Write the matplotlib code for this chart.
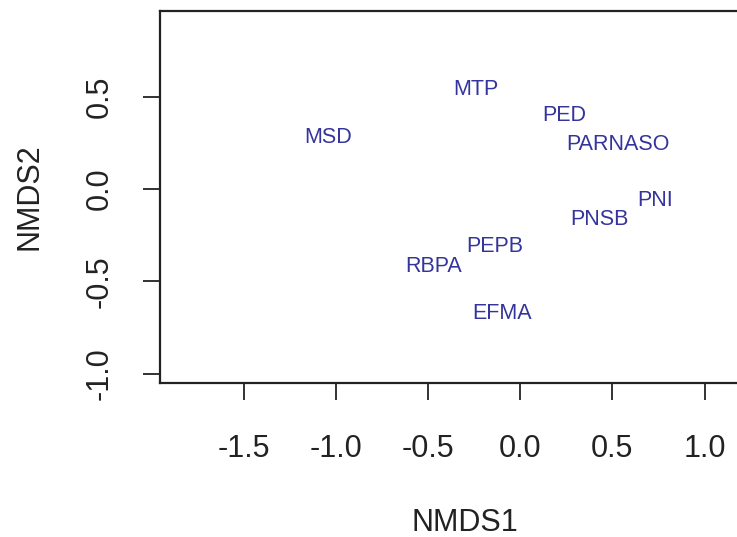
import matplotlib
matplotlib.use("Agg")
import matplotlib.pyplot as plt

plt.rcParams['font.family'] = ['Liberation Sans', 'DejaVu Sans']

sites = ["MTP", "PED", "MSD", "PARNASO", "PNI", "PNSB", "PEPB", "RBPA", "EFMA"]
nmds1 = [-0.24, 0.24, -1.04, 0.53, 0.73, 0.43, -0.14, -0.47, -0.10]
nmds2 = [0.54, 0.40, 0.28, 0.24, -0.065, -0.165, -0.31, -0.42, -0.675]

fig = plt.figure(figsize=(7.37, 5.37), dpi=100)
# axes box runs past the right edge of the picture, as in the reference
ax = fig.add_axes([160 / 737, 1 - 383 / 537, 609 / 737, 372 / 537])
ax.set_xlim(-1.955, 1.35)
ax.set_ylim(-1.051, 0.964)

for s, x, y in zip(sites, nmds1, nmds2):
    ax.text(x, y, s, color="#34349c", fontsize=15.5, ha="center", va="center")

ax.set_xticks([-1.5, -1.0, -0.5, 0.0, 0.5, 1.0])
ax.set_xticklabels(["-1.5", "-1.0", "-0.5", "0.0", "0.5", "1.0"])
ax.set_yticks([-1.0, -0.5, 0.0, 0.5])
ax.set_yticklabels(["-1.0", "-0.5", "0.0", "0.5"], rotation=90, va="center")
ax.tick_params(length=12.5, width=1.3, labelsize=22, colors="#222222")
ax.tick_params(axis="x", pad=24)
ax.tick_params(axis="y", pad=20)
for sp in ax.spines.values():
    sp.set_linewidth(1.6)
    sp.set_color("#222222")

ax.set_xlabel("NMDS1", fontsize=22, labelpad=32, color="#222222")
ax.set_ylabel("NMDS2", fontsize=22, labelpad=29, color="#222222")

fig.savefig("out.png", dpi=100)
